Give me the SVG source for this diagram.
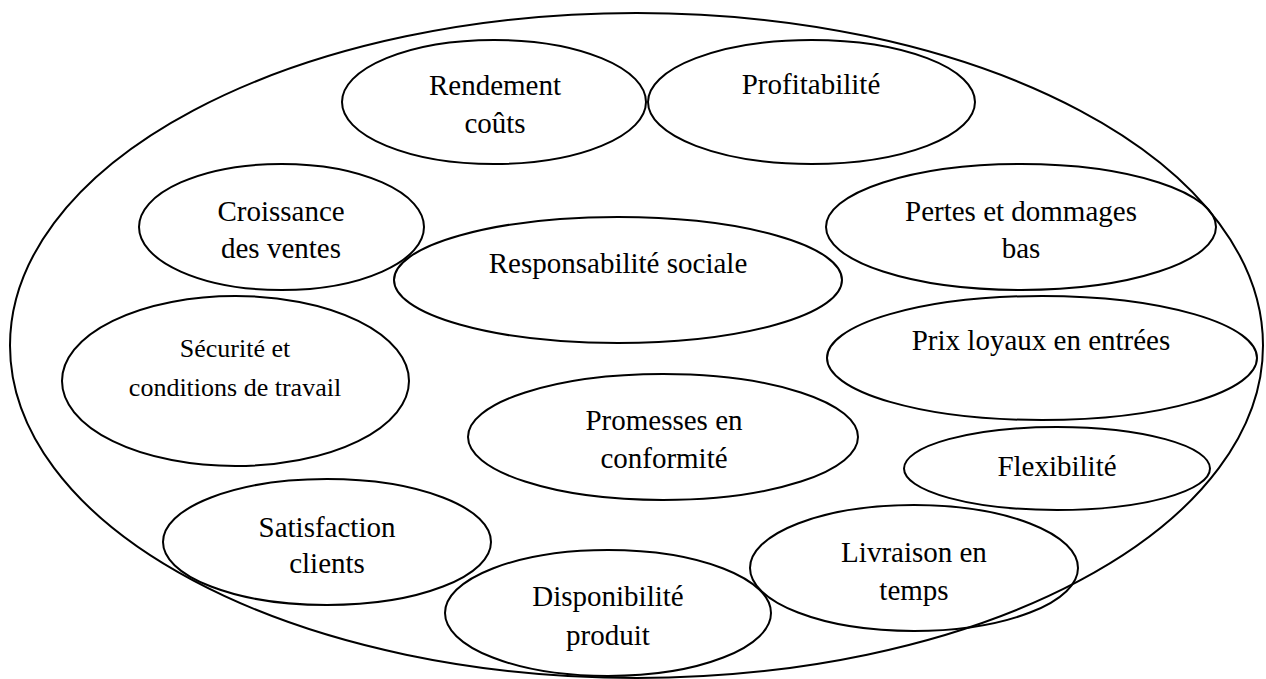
<svg xmlns="http://www.w3.org/2000/svg" width="1266" height="679" viewBox="0 0 1266 679">
<style>
  .e { fill: none; stroke: #000; stroke-width: 2; }
  .t { font-family: 'Liberation Serif', 'DejaVu Serif', 'Times New Roman', Times, serif; font-size: 29px; fill: #000; text-anchor: middle; }
  .s { font-size: 26px; }
</style>
<rect width="1266" height="679" fill="#fff"/>
<g id="outer"><ellipse class="e" cx="636.5" cy="345.5" rx="626.5" ry="332.5"/></g>
<g id="rendement">
  <ellipse class="e" cx="494" cy="102" rx="152" ry="62"/>
  <text class="t" x="495" y="95">Rendement</text>
  <text class="t" x="495" y="133">coûts</text>
</g>
<g id="profitabilite">
  <ellipse class="e" cx="811.5" cy="102" rx="163.5" ry="62"/>
  <text class="t" x="811" y="94">Profitabilité</text>
</g>
<g id="croissance">
  <ellipse class="e" cx="281.5" cy="227" rx="142.5" ry="63"/>
  <text class="t" x="281" y="221">Croissance</text>
  <text class="t" x="281" y="258">des ventes</text>
</g>
<g id="responsabilite">
  <ellipse class="e" cx="618" cy="280" rx="224" ry="63"/>
  <text class="t" x="618" y="273">Responsabilité sociale</text>
</g>
<g id="pertes">
  <ellipse class="e" cx="1021" cy="227" rx="195" ry="63"/>
  <text class="t" x="1021" y="221">Pertes et dommages</text>
  <text class="t" x="1021" y="258">bas</text>
</g>
<g id="prix">
  <ellipse class="e" cx="1042" cy="358" rx="215" ry="62"/>
  <text class="t" x="1041" y="350">Prix loyaux en entrées</text>
</g>
<g id="securite">
  <ellipse class="e" cx="235.5" cy="381" rx="173.5" ry="85"/>
  <text class="t s" x="235" y="357">Sécurité et</text>
  <text class="t s" x="235" y="396">conditions de travail</text>
</g>
<g id="promesses">
  <ellipse class="e" cx="663" cy="437" rx="195" ry="63"/>
  <text class="t" x="664" y="430">Promesses en</text>
  <text class="t" x="664" y="468">conformité</text>
</g>
<g id="flexibilite">
  <ellipse class="e" cx="1057" cy="468.5" rx="153" ry="41.5"/>
  <text class="t" x="1057" y="476">Flexibilité</text>
</g>
<g id="satisfaction">
  <ellipse class="e" cx="327" cy="542" rx="164" ry="63"/>
  <text class="t" x="327" y="537">Satisfaction</text>
  <text class="t" x="327" y="573">clients</text>
</g>
<g id="livraison">
  <ellipse class="e" cx="914" cy="568" rx="164" ry="63"/>
  <text class="t" x="914" y="562">Livraison en</text>
  <text class="t" x="914" y="600">temps</text>
</g>
<g id="disponibilite">
  <ellipse class="e" cx="608" cy="613" rx="163" ry="63"/>
  <text class="t" x="608" y="606">Disponibilité</text>
  <text class="t" x="608" y="645">produit</text>
</g>
<g id="connectors"></g>
</svg>
